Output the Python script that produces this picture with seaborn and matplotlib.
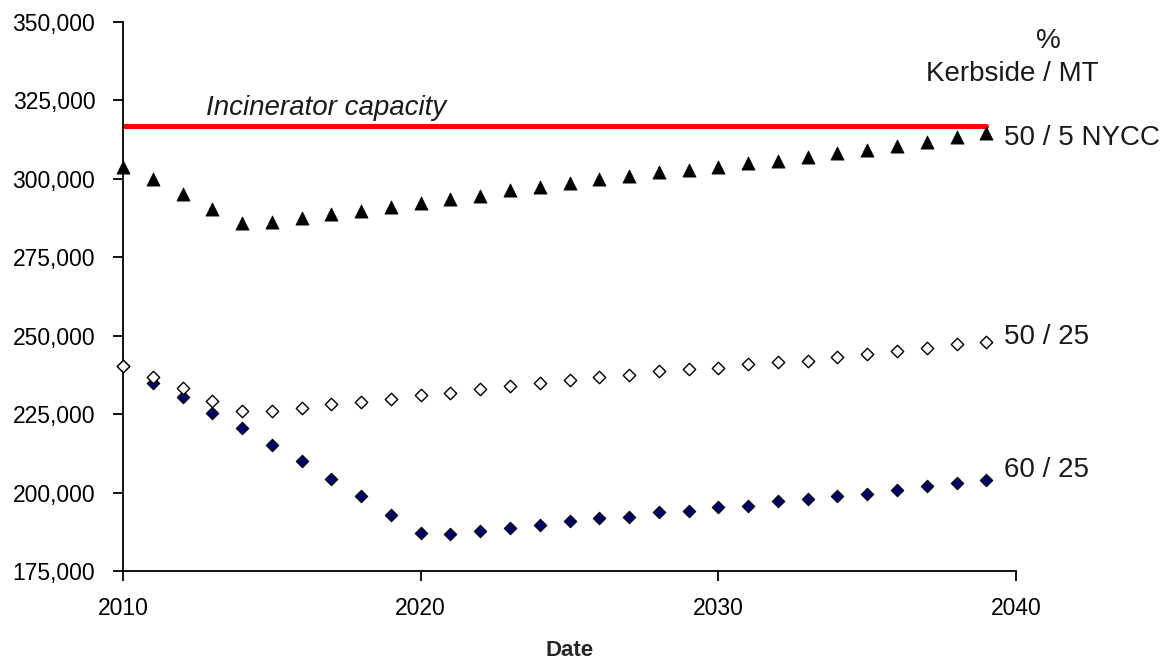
import matplotlib
matplotlib.use("Agg")
import matplotlib.pyplot as plt
import matplotlib.ticker as mticker
import pandas as pd
import seaborn as sns

# years modelled
years = list(range(2010, 2040))

# residual waste to incinerator (tonnes) for each kerbside / MT scenario
nycc_50_5 = [303900, 299900, 295200, 290400, 285800, 286300, 287600, 288700, 289800, 291100,
             292200, 293500, 294500, 296400, 297400, 298800, 299900, 300900, 302200, 302800,
             303900, 305200, 305800, 306900, 308100, 309200, 310500, 311700, 313400, 314500]
s_50_25 = [240400, 236900, 233400, 229300, 225900, 225900, 227000, 228200, 228800, 229800,
           231100, 231600, 232900, 234000, 234800, 235900, 236800, 237500, 238800, 239400,
           239700, 241000, 241600, 241900, 243200, 244200, 245100, 246100, 247400, 248000]
s_60_25 = [240200, 235000, 230400, 225300, 220600, 215300, 209900, 204200, 198900, 193000,
           187200, 186700, 187700, 188800, 189800, 190900, 191800, 192300, 193700, 194200,
           195300, 195800, 197200, 197900, 198900, 199600, 200700, 202000, 203200, 204000]

capacity_years = [2010, 2039]
capacity = [317000, 317000]

scenario_labels = ["50 / 5 NYCC", "50 / 25", "60 / 25"]
label_y = [313000, 249600, 207200]

df = pd.DataFrame({"Date": years, "nycc": nycc_50_5, "s5025": s_50_25, "s6025": s_60_25})
cap = pd.DataFrame({"Date": capacity_years, "Tonnes": capacity})

sns.set_style("ticks")
plt.rcParams["font.family"] = ["Liberation Sans", "DejaVu Sans"]

fig = plt.figure(figsize=(11.73, 6.61), dpi=100)
ax = fig.add_axes([0.1049, 0.1362, 0.7613, 0.8305])

sns.lineplot(x="Date", y="Tonnes", data=cap, color="#ff0000", linewidth=3.6, ax=ax)
sns.scatterplot(x="Date", y="s6025", data=df, marker="D", s=40, color="#000066",
                edgecolor="black", linewidth=0.8, ax=ax, zorder=3, clip_on=False)
sns.scatterplot(x="Date", y="s5025", data=df, marker="D", s=40, color="white",
                edgecolor="black", linewidth=1.0, ax=ax, zorder=4, clip_on=False)
sns.scatterplot(x="Date", y="nycc", data=df, marker="^", s=90, color="black",
                edgecolor="black", linewidth=0.5, ax=ax, zorder=4, clip_on=False)

ax.set_xlim(2010, 2040)
ax.set_ylim(175000, 350000)
ax.set_xticks([2010, 2020, 2030, 2040])
ax.set_yticks(range(175000, 350001, 25000))
ax.yaxis.set_major_formatter(mticker.StrMethodFormatter("{x:,.0f}"))
ax.tick_params(axis="both", labelsize=16.5, colors="black", length=7, width=1.3)
ax.tick_params(axis="y", pad=13)
ax.tick_params(axis="x", pad=12)
sns.despine(ax=ax)
for side in ["left", "bottom"]:
    ax.spines[side].set_linewidth(1.3)
    ax.spines[side].set_color("black")

ax.set_xlabel("Date", fontsize=16, fontweight="bold", labelpad=14)
ax.set_ylabel("")

ax.text(2012.8, 318500, "Incinerator capacity", fontsize=20, style="italic",
        color="#1a1a1a", va="bottom", ha="left")

for lab, yv in zip(scenario_labels, label_y):
    ax.text(2039.6, yv, lab, fontsize=20, color="#1a1a1a", va="center", ha="left",
            clip_on=False)

fig.text(1048 / 1173, 1 - 41 / 661, "%", fontsize=20, color="#1a1a1a",
         ha="center", va="center")
fig.text(1012 / 1173, 1 - 74 / 661, "Kerbside / MT", fontsize=20, color="#1a1a1a",
         ha="center", va="center")

fig.savefig("out.png", dpi=100, facecolor="white")
